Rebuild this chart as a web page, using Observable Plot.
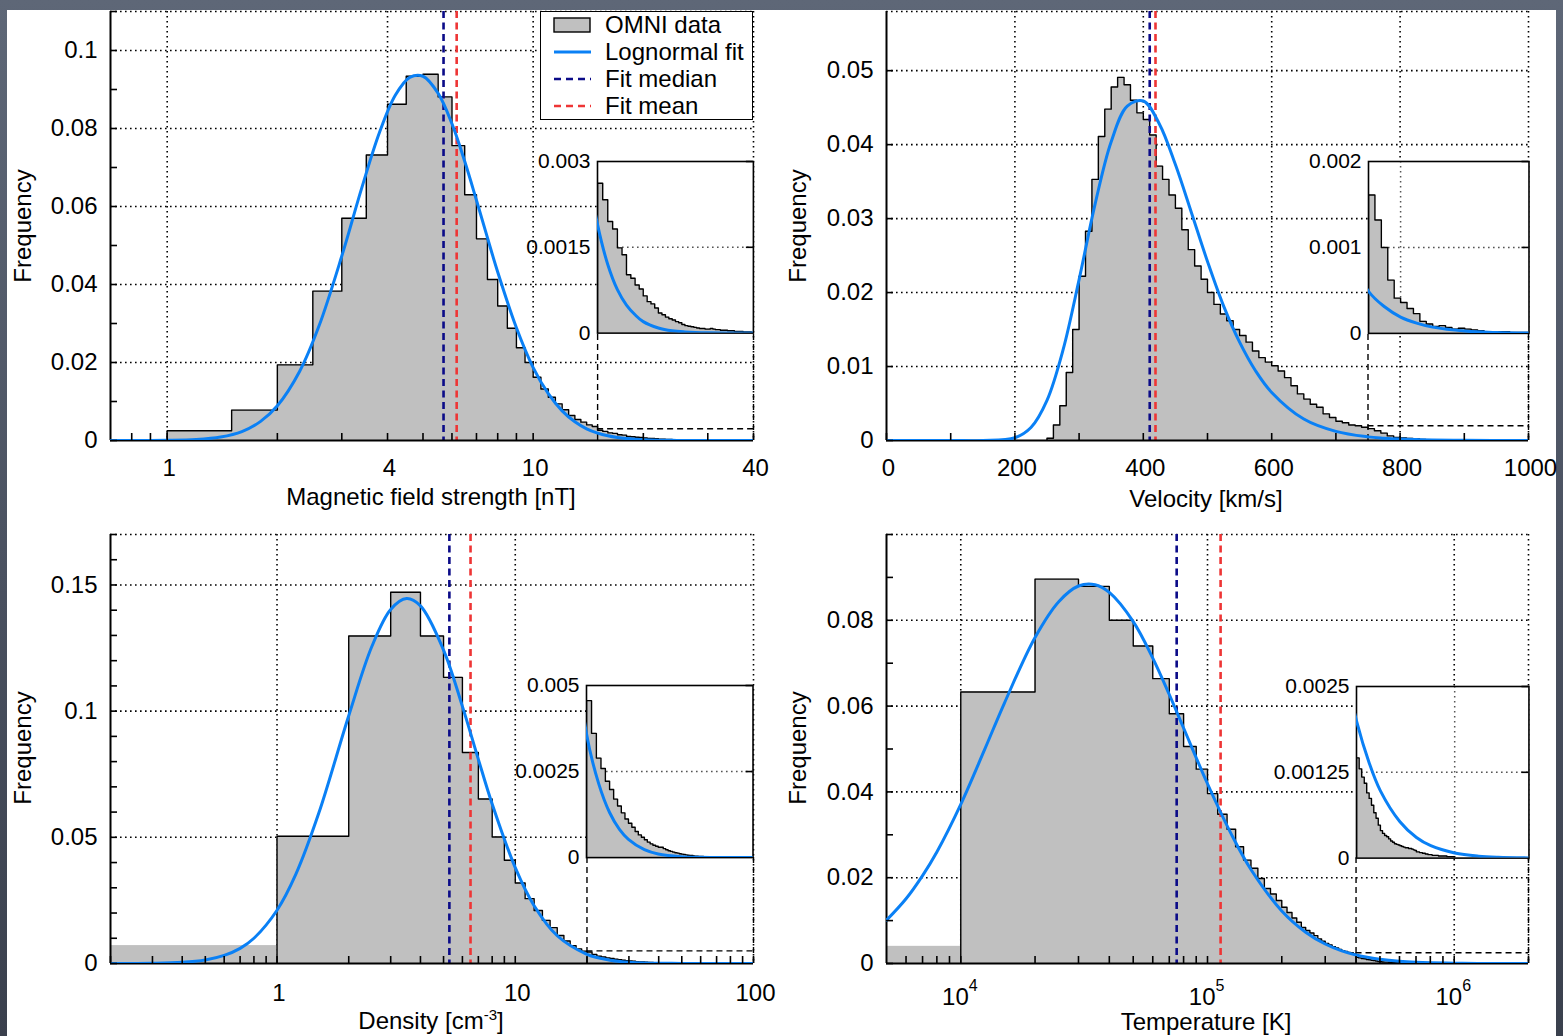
<!DOCTYPE html>
<html>
<head>
<meta charset="utf-8">
<script src="https://cdn.jsdelivr.net/npm/d3@7"></script>
<script src="https://cdn.jsdelivr.net/npm/@observablehq/plot@0.6"></script>
<style>
  html, body { margin: 0; padding: 0; }
  body { width: 1563px; height: 1036px; overflow: hidden; position: relative;
         background: linear-gradient(180deg, #5e6777 0%, #4a5160 55%, #3a404d 100%); }
  #sheet { position: absolute; left: 7px; top: 10px; width: 1549px; height: 1026px; background: #fff; }
  #page { position: absolute; left: 0; top: 0; width: 1563px; height: 1036px; }
  .t { position: absolute; font-family: "Liberation Sans", Arial, Helvetica, sans-serif; font-size: 24px; color: #000; white-space: nowrap; line-height: 1; }
  #page svg { position: absolute; }
</style>
</head>
<body>
<div id="sheet"></div>
<div id="page"></div>
<script>
// ================= DATA =================
// ---- Magnetic field strength [nT] (0.5 nT bins) ----
const bBinStart = 1.0;
const bBinWidth = 0.5;
const bFreq = [0.0025, 0.0078, 0.0194, 0.0383, 0.0570, 0.0732, 0.0862, 0.0934, 0.0939, 0.0881,
               0.0756, 0.0630, 0.0517, 0.0413, 0.0345, 0.0288, 0.0238, 0.0200, 0.0162, 0.0132,
               0.0111, 0.0094, 0.0079, 0.0064, 0.0054, 0.0047, 0.0040, 0.0036];
const bInsetStart = 15;
const bInsetFreq = [0.00262, 0.00233, 0.00195, 0.00182, 0.00149, 0.00137, 0.00102, 0.00096, 0.00084, 0.00077,
                    0.00065, 0.00055, 0.00051, 0.00044, 0.00035, 0.00032, 0.00028, 0.00025, 0.00023, 0.00020,
                    0.00018, 0.00015, 0.00013, 0.00012, 0.00011, 0.00010, 0.00009, 0.00008, 0.00008, 0.00007,
                    0.00007, 0.00008, 0.00007, 0.00006, 0.00006, 0.00005, 0.00005, 0.00005, 0.00004, 0.00004,
                    0.00004, 0.00003, 0.00003, 0.00003, 0.00003, 0.00002, 0.00002, 0.00002, 0.00002, 0.00001];
const bFitX = [0.7, 1.0, 1.2, 1.4, 1.6, 1.8, 2.0, 2.3, 2.6, 3.0, 3.4, 3.8, 4.2, 4.6, 5.0, 5.5, 6.0, 6.5, 7.0, 7.5,
               8, 9, 10, 11, 12, 13, 14, 15, 16, 17, 18, 19, 20, 22, 24, 26, 30, 40];
const bFitY = [0, 0.00005, 0.00026, 0.0009, 0.0023, 0.0049, 0.0089, 0.0177, 0.0294, 0.0473, 0.0647, 0.0789, 0.0885, 0.0931, 0.0934, 0.0890, 0.0812, 0.0716, 0.0616, 0.0520,
               0.0432, 0.0289, 0.0187, 0.0120, 0.0076, 0.0048, 0.0030, 0.0019, 0.0012, 0.00076, 0.00049, 0.00032, 0.00020, 0.00009, 0.00004, 0.00002, 0.000004, 0];
const bMedian = 5.69, bMean = 6.18;
const bXTicks = [0.8, 0.9, 1, 2, 3, 4, 5, 6, 7, 8, 9, 10, 20, 30, 40];
const bXLabels = [1, 4, 10, 40];
const bYTicks = [0, 0.01, 0.02, 0.03, 0.04, 0.05, 0.06, 0.07, 0.08, 0.09, 0.1, 0.11];
const bYLabels = [0, 0.02, 0.04, 0.06, 0.08, 0.1];
const bInsetYLabels = [0, 0.0015, 0.003];

// ---- Velocity [km/s] (10 km/s bins) ----
const vBinStart = 250;
const vBinWidth = 10;
const vFreq = [0.0003, 0.0021, 0.0047, 0.0092, 0.0150, 0.0222, 0.0283, 0.0353, 0.0411, 0.0448,
               0.0478, 0.0491, 0.0481, 0.0460, 0.0443, 0.0434, 0.0413, 0.0371, 0.0353, 0.0332,
               0.0314, 0.0285, 0.0258, 0.0236, 0.0218, 0.0200, 0.0184, 0.0171, 0.0162, 0.0150,
               0.0142, 0.0133, 0.0121, 0.0112, 0.0106, 0.0101, 0.0094, 0.0085, 0.0074, 0.0063,
               0.0056, 0.0049, 0.0045, 0.0036, 0.0031, 0.0026, 0.0024, 0.0021, 0.0020, 0.0018];
const vInsetStart = 750;
const vInsetFreq = [0.00161, 0.00132, 0.00100, 0.00062, 0.00041, 0.00036, 0.00029, 0.00023, 0.00014, 0.00011,
                    0.00008, 0.00009, 0.00007, 0.00005, 0.00006, 0.00005, 0.00004, 0.00003, 0.00002, 0.00002,
                    0.00002, 0.00002, 0.00001, 0.00001, 0.00001];
const vFitX = [0, 100, 150, 200, 225, 250, 275, 300, 325, 350, 375, 400, 425, 450, 475, 500, 525, 550, 575, 600,
               650, 700, 750, 775, 800, 825, 850, 900, 950, 1000];
const vFitY = [0, 0, 0.0000025, 0.00038, 0.00176, 0.00543, 0.01225, 0.02176, 0.0320, 0.0404, 0.0452, 0.0459, 0.0428, 0.0373, 0.0308, 0.0242, 0.0182, 0.0133, 0.0094, 0.0065,
               0.0029, 0.00123, 0.00049, 0.00031, 0.00019, 0.00012, 0.000073, 0.000027, 0.00001, 0.000004];
const vMedian = 410, vMean = 419;
const vXTicks = [0, 100, 200, 300, 400, 500, 600, 700, 800, 900, 1000];
const vXLabels = [0, 200, 400, 600, 800, 1000];
const vYTicks = [0, 0.01, 0.02, 0.03, 0.04, 0.05];
const vYLabels = [0, 0.01, 0.02, 0.03, 0.04, 0.05];
const vInsetYLabels = [0, 0.001, 0.002];

// ---- Density [cm^-3] (1 cm^-3 bins) ----
const dUnderflow = 0.0071;
const dBinStart = 1;
const dBinWidth = 1;
const dFreq = [0.0504, 0.1298, 0.1471, 0.1298, 0.1134, 0.0836, 0.0652, 0.0501, 0.0409, 0.0319,
               0.0257, 0.0210, 0.0171, 0.0142, 0.0111, 0.0089, 0.0071, 0.0058, 0.0049];
const dInsetStart = 20;
const dInsetFreq = [0.00456, 0.00361, 0.00289, 0.00259, 0.00222, 0.00198, 0.00170, 0.00150, 0.00130, 0.00112,
                    0.00100, 0.00088, 0.00076, 0.00066, 0.00059, 0.00052, 0.00045, 0.00040, 0.00036, 0.00033,
                    0.00030, 0.00030, 0.00026, 0.00023, 0.00020, 0.00018, 0.00016, 0.00014, 0.00013, 0.00011,
                    0.00010, 0.00009, 0.00008, 0.00007, 0.00006, 0.00006, 0.00005, 0.00004, 0.00004, 0.00003,
                    0.00003, 0.00003, 0.00002, 0.00002, 0.00002, 0.00002, 0.00002, 0.00001, 0.00001, 0.00001,
                    0.00001, 0.00001, 0.00001, 0.00001, 0.00001, 0, 0, 0, 0, 0];
const dFitX = [0.2, 0.3, 0.4, 0.5, 0.6, 0.7, 0.8, 1.0, 1.2, 1.5, 2.0, 2.5, 3.0, 3.5, 4.0, 5, 6, 7, 8, 10,
               12, 15, 20, 22.5, 25, 27.5, 30, 35, 40, 50, 60, 80, 100];
const dFitY = [0.0000065, 0.00009, 0.00046, 0.0014, 0.0032, 0.0060, 0.0100, 0.0211, 0.0354, 0.0598, 0.0982, 0.1256, 0.1403, 0.1446, 0.1417, 0.1242, 0.1019, 0.0809, 0.0632, 0.0380,
               0.0229, 0.0110, 0.0036, 0.00215, 0.00131, 0.00082, 0.00053, 0.00023, 0.000105, 0.000026, 0.000008, 0.000001, 0];
const dMedian = 5.29, dMean = 6.49;
const dXTicks = [0.2, 0.3, 0.4, 0.5, 0.6, 0.7, 0.8, 0.9, 1, 2, 3, 4, 5, 6, 7, 8, 9, 10, 20, 30, 40, 50, 60, 70, 80, 90, 100];
const dXLabels = [1, 10, 100];
const dYTicks = [0, 0.01, 0.02, 0.03, 0.04, 0.05, 0.06, 0.07, 0.08, 0.09, 0.1, 0.11, 0.12, 0.13, 0.14, 0.15, 0.16, 0.17];
const dYLabels = [0, 0.05, 0.1, 0.15];
const dInsetYLabels = [0, 0.0025, 0.005];

// ---- Temperature [K] (1e4 K bins) ----
const tUnderflow = 0.0040;
const tBinStart = 10000;
const tBinWidth = 10000;
const tFreq = [0.0633, 0.0896, 0.0879, 0.0800, 0.0740, 0.0664, 0.0582, 0.0506, 0.0453, 0.0396,
               0.0348, 0.0313, 0.0272, 0.0241, 0.0222, 0.0198, 0.0175, 0.0162, 0.0147, 0.0131,
               0.0119, 0.0106, 0.0096, 0.0084, 0.0077, 0.0071, 0.0065, 0.0057, 0.0052, 0.0047,
               0.0043, 0.0039, 0.0036, 0.0033, 0.0030, 0.0028, 0.0026, 0.0025, 0.0023];
const tInsetStart = 400000;
const tInsetFreq = [0.00146, 0.00130, 0.00118, 0.00109, 0.00095, 0.00087, 0.00077, 0.00066, 0.00058, 0.00048,
                    0.00040, 0.00036, 0.00033, 0.00031, 0.00028, 0.00025, 0.00023, 0.00021, 0.00020, 0.00019,
                    0.00018, 0.00017, 0.00016, 0.00015, 0.00015, 0.00014, 0.00014, 0.00013, 0.00012, 0.00011,
                    0.00009, 0.00009, 0.00008, 0.00008, 0.00007, 0.00007, 0.00006, 0.00006, 0.00005, 0.00005,
                    0.00005, 0.00004, 0.00004, 0.00004, 0.00004, 0.00004, 0.00003, 0.00003, 0.00003, 0.00003,
                    0.00003, 0.00003, 0.00003, 0.00002, 0.00002, 0.00002, 0.00002, 0.00002, 0.00002, 0.00002];
const tFitX = [5000, 6000, 7000, 8000, 10000, 12500, 15000, 20000, 25000, 30000, 35000, 40000, 50000, 60000, 70000, 80000,
               100000, 125000, 150000, 200000, 250000, 300000, 350000, 400000, 450000, 500000, 600000, 700000, 800000,
               1000000, 1250000, 1500000, 2000000];
const tFitY = [0.0101, 0.0151, 0.0205, 0.0260, 0.0371, 0.0499, 0.0606, 0.0760, 0.0844, 0.0880, 0.0883, 0.0865, 0.0797, 0.0712, 0.0627, 0.0549,
               0.0419, 0.0301, 0.0219, 0.01225, 0.0073, 0.00455, 0.00296, 0.00200, 0.00139, 0.00098, 0.00053, 0.00030, 0.00018,
               0.000074, 0.000028, 0.000012, 0.000003];
const tMedian = 75000, tMean = 113000;
const tXTicks = [6000, 7000, 8000, 9000, 10000, 20000, 30000, 40000, 50000, 60000, 70000, 80000, 90000,
                 100000, 200000, 300000, 400000, 500000, 600000, 700000, 800000, 900000, 1000000, 2000000];
const tXLabels = [10000, 100000, 1000000];
const tXLabelExp = ["4", "5", "6"];
const tYTicks = [0, 0.01, 0.02, 0.03, 0.04, 0.05, 0.06, 0.07, 0.08, 0.09, 0.1];
const tYLabels = [0, 0.02, 0.04, 0.06, 0.08];
const tInsetYLabels = [0, 0.00125, 0.0025];

// ================= STYLE =================
const FONT = '"Liberation Sans", Arial, Helvetica, sans-serif';
const BLUE = "#0a80f5", NAVY = "#0b0b88", RED = "#ee3535", GRAY = "#c0c0c0";
const page = document.getElementById("page");

function bins(start, width, freq) {
  return freq.map((f, i) => ({ lo: start + i * width, hi: start + (i + 1) * width, f }));
}
function stepPoints(bs) {
  const p = bs.map(b => ({ x: b.lo, y: b.f }));
  const last = bs[bs.length - 1];
  p.push({ x: last.hi, y: last.f });
  return p;
}
function fitPoints(xs, ys) { return xs.map((x, i) => ({ x, y: ys[i] })); }

function drawPanel(o) {
  const [fl, ft, fr, fb] = o.frame;
  const fw = fr - fl, fh = fb - ft;
  const m = { l: 110, t: 20, r: 40, b: 60 };
  const mainBins = bins(o.binStart, o.binWidth, o.freq);
  const tailBins = bins(o.insetStart, o.binWidth, o.insetFreq);
  const all = mainBins.concat(tailBins);
  const pts = stepPoints(all);
  const outline = [{ x: all[0].lo, y: 0 }].concat(pts);
  const [xmin, xmax] = o.xDomain;
  const dotted = { stroke: "#000", strokeWidth: 1.6, strokeDasharray: "1.6,3.4" };
  const dashed = { stroke: "#000", strokeWidth: 1.4, strokeDasharray: "6,4" };
  const fit = fitPoints(o.fitX, o.fitY);
  const ins = o.inset;

  const marks = [
    Plot.ruleY(o.yGrid, { y: d => d, ...dotted }),
    Plot.ruleX(o.xGrid, { x: d => d, ...dotted })
  ];
  if (o.underflow != null) {
    marks.push(Plot.rectY([{ x1: xmin, x2: o.binStart, y: o.underflow }], { x1: "x1", x2: "x2", y: "y", fill: GRAY }));
  }
  marks.push(
    Plot.areaY(pts, { x: "x", y: "y", curve: "step-after", fill: GRAY, clip: true }),
    Plot.line(outline, { x: "x", y: "y", curve: "step-after", stroke: "#000", strokeWidth: 1.4, clip: true }),
    Plot.ruleY([{ y: ins.yDomain[1], x1: ins.xDomain[0], x2: ins.xDomain[1] }], { y: "y", x1: "x1", x2: "x2", ...dashed }),
    Plot.ruleX(ins.xDomain.map(x => ({ x, y1: 0, y2: ins.placeY[0] })), { x: "x", y1: "y1", y2: "y2", ...dashed }),
    Plot.ruleX([o.median], { x: d => d, stroke: NAVY, strokeWidth: 2.6, strokeDasharray: "7,4.5" }),
    Plot.ruleX([o.mean], { x: d => d, stroke: RED, strokeWidth: 2.6, strokeDasharray: "7,4.5" }),
    Plot.ruleX([xmin], { x: d => d, stroke: "#000", strokeWidth: 2 }),
    Plot.ruleY([0], { y: d => d, stroke: "#000", strokeWidth: 2 }),
    Plot.line(fit, { x: "x", y: "y", curve: "catmull-rom", stroke: BLUE, strokeWidth: 3, clip: true }),
    Plot.tickX(o.xTicks, { x: d => d, insetTop: fh - 7, stroke: "#000", strokeWidth: 1.6 }),
    Plot.tickY(o.yTicks, { y: d => d, insetRight: fw - 7, stroke: "#000", strokeWidth: 1.6 }),
    Plot.text(o.yLabels, { y: d => d, text: d => String(d), frameAnchor: "left", textAnchor: "end", dx: -13,
                           fontSize: 24, fontFamily: FONT, fill: "#000" })
  );
  if (o.xLabelExp) {
    marks.push(
      Plot.text(o.xLabels, { x: d => d, text: () => "10", frameAnchor: "bottom", lineAnchor: "top", textAnchor: "end",
                             dx: 8, dy: o.xLabelDy, fontSize: 24, fontFamily: FONT, fill: "#000" }),
      Plot.text(o.xLabels, { x: d => d, text: (d, i) => o.xLabelExp[i], frameAnchor: "bottom", lineAnchor: "top", textAnchor: "start",
                             dx: 8, dy: o.xLabelDy - 8, fontSize: 16, fontFamily: FONT, fill: "#000" })
    );
  } else {
    marks.push(Plot.text(o.xLabels, { x: d => d, text: d => String(d), frameAnchor: "bottom", lineAnchor: "top",
                                      dx: 2, dy: o.xLabelDy, fontSize: 24, fontFamily: FONT, fill: "#000" }));
  }

  const svg = Plot.plot({
    width: fw + m.l + m.r, height: fh + m.t + m.b,
    marginLeft: m.l, marginTop: m.t, marginRight: m.r, marginBottom: m.b,
    x: { type: o.xType, domain: o.xDomain, axis: null },
    y: { type: "linear", domain: o.yDomain, axis: null },
    style: { background: "transparent", overflow: "visible" },
    marks
  });
  const svgLeft = fl - m.l, svgTop = ft - m.t;
  svg.style.left = svgLeft + "px";
  svg.style.top = svgTop + "px";
  page.appendChild(svg);

  // ---- inset, placed with the main panel's scales ----
  const sx = svg.scale("x"), sy = svg.scale("y");
  const ix0 = svgLeft + sx.apply(ins.xDomain[0]);
  const ix1 = svgLeft + sx.apply(ins.xDomain[1]);
  const iyTop = svgTop + sy.apply(ins.placeY[1]);
  const iyBot = svgTop + sy.apply(ins.placeY[0]);
  const iw = ix1 - ix0, ih = iyBot - iyTop;
  const im = { l: 100, t: 15, r: 5, b: 5 };
  const ipts = stepPoints(tailBins);
  const ioutline = [{ x: tailBins[0].lo, y: 0 }].concat(ipts);
  const ifit = fit.filter(p => p.x >= o.fitInsetFrom);
  const idotted = { stroke: "#555", strokeWidth: 1.5, strokeDasharray: "1.6,3.4" };
  const mid = ins.yLabels[1], top = ins.yLabels[2];
  const isvg = Plot.plot({
    width: iw + im.l + im.r, height: ih + im.t + im.b,
    marginLeft: im.l, marginTop: im.t, marginRight: im.r, marginBottom: im.b,
    x: { type: o.xType, domain: ins.xDomain, axis: null },
    y: { type: "linear", domain: ins.yDomain, axis: null },
    style: { background: "transparent", overflow: "visible" },
    marks: [
      Plot.frame({ fill: "#fff", stroke: "none" }),
      Plot.ruleY([mid], { y: d => d, ...idotted }),
      Plot.ruleX(ins.xGrid, { x: d => d, ...idotted }),
      Plot.areaY(ipts, { x: "x", y: "y", curve: "step-after", fill: GRAY, clip: true }),
      Plot.line(ioutline, { x: "x", y: "y", curve: "step-after", stroke: "#000", strokeWidth: 1.4, clip: true }),
      Plot.frame({ stroke: "#000", strokeWidth: 1.6, fill: "none" }),
      Plot.line(ifit, { x: "x", y: "y", curve: "catmull-rom", stroke: BLUE, strokeWidth: 3, clip: true }),
      Plot.tickY([mid, top], { y: d => d, insetLeft: iw - 7, stroke: "#000", strokeWidth: 1.6 }),
      Plot.text(ins.yLabels, { y: d => d, text: d => String(d), frameAnchor: "left", textAnchor: "end", dx: -7,
                               fontSize: 21, fontFamily: FONT, fill: "#000" })
    ]
  });
  isvg.style.left = (ix0 - im.l) + "px";
  isvg.style.top = (iyTop - im.t) + "px";
  page.appendChild(isvg);
}

drawPanel({
  frame: [110, 11, 753, 440], xType: "log", xDomain: [0.7, 40], yDomain: [0, 0.11],
  binStart: bBinStart, binWidth: bBinWidth, freq: bFreq, insetStart: bInsetStart, insetFreq: bInsetFreq,
  fitX: bFitX, fitY: bFitY, fitInsetFrom: 14, median: bMedian, mean: bMean,
  xTicks: bXTicks, xLabels: bXLabels, xGrid: [1, 4, 10, 40], xLabelDy: 18,
  yTicks: bYTicks, yLabels: bYLabels, yGrid: [0.02, 0.04, 0.06, 0.08, 0.1, 0.11],
  inset: { xDomain: [15, 40], yDomain: [0, 0.003], placeY: [0.0275, 0.0715], xGrid: [], yLabels: bInsetYLabels }
});
drawPanel({
  frame: [886, 11, 1528, 440], xType: "linear", xDomain: [0, 1000], yDomain: [0, 0.058],
  binStart: vBinStart, binWidth: vBinWidth, freq: vFreq, insetStart: vInsetStart, insetFreq: vInsetFreq,
  fitX: vFitX, fitY: vFitY, fitInsetFrom: 700, median: vMedian, mean: vMean,
  xTicks: vXTicks, xLabels: vXLabels, xGrid: [200, 400, 600, 800, 1000], xLabelDy: 18,
  yTicks: vYTicks, yLabels: vYLabels, yGrid: [0.01, 0.02, 0.03, 0.04, 0.05, 0.058],
  inset: { xDomain: [750, 1000], yDomain: [0, 0.002], placeY: [0.01446, 0.0377], xGrid: [800], yLabels: vInsetYLabels }
});
drawPanel({
  frame: [110, 534, 753, 963], xType: "log", xDomain: [0.2, 100], yDomain: [0, 0.17],
  underflow: dUnderflow,
  binStart: dBinStart, binWidth: dBinWidth, freq: dFreq, insetStart: dInsetStart, insetFreq: dInsetFreq,
  fitX: dFitX, fitY: dFitY, fitInsetFrom: 15, median: dMedian, mean: dMean,
  xTicks: dXTicks, xLabels: dXLabels, xGrid: [1, 10, 100], xLabelDy: 20,
  yTicks: dYTicks, yLabels: dYLabels, yGrid: [0.05, 0.1, 0.15, 0.17],
  inset: { xDomain: [20, 100], yDomain: [0, 0.005], placeY: [0.0421, 0.1103], xGrid: [], yLabels: dInsetYLabels }
});
drawPanel({
  frame: [886, 534, 1528, 963], xType: "log", xDomain: [5000, 2000000], yDomain: [0, 0.1],
  underflow: tUnderflow,
  binStart: tBinStart, binWidth: tBinWidth, freq: tFreq, insetStart: tInsetStart, insetFreq: tInsetFreq,
  fitX: tFitX, fitY: tFitY, fitInsetFrom: 350000, median: tMedian, mean: tMean,
  xTicks: tXTicks, xLabels: tXLabels, xLabelExp: tXLabelExp, xGrid: [10000, 100000, 1000000, 2000000], xLabelDy: 24,
  yTicks: tYTicks, yLabels: tYLabels, yGrid: [0.02, 0.04, 0.06, 0.08, 0.1],
  inset: { xDomain: [400000, 2000000], yDomain: [0, 0.0025], placeY: [0.02465, 0.06465], xGrid: [1000000], yLabels: tInsetYLabels }
});

// ---- axis titles ----
function title(html, cx, cy, rotate) {
  const d = document.createElement("div");
  d.className = "t";
  d.innerHTML = html;
  d.style.left = cx + "px";
  d.style.top = cy + "px";
  d.style.transform = "translate(-50%,-50%)" + (rotate ? " rotate(-90deg)" : "");
  page.appendChild(d);
}
title("Frequency", 23, 226, true);
title("Frequency", 798, 226, true);
title("Frequency", 23, 748, true);
title("Frequency", 798, 748, true);
title("Magnetic field strength [nT]", 431, 497);
title("Velocity [km/s]", 1206, 499);
title('Density [cm<span style="position:relative;top:-9px;font-size:15px">-3</span>]', 431, 1021);
title("Temperature [K]", 1206, 1022);

// ---- legend ----
const legendItems = [
  { label: "OMNI data", kind: "box" },
  { label: "Lognormal fit", kind: "line", color: BLUE, dash: "" },
  { label: "Fit median", kind: "line", color: NAVY, dash: "7,5" },
  { label: "Fit mean", kind: "line", color: RED, dash: "7,5" }
];
const lg = document.createElement("div");
lg.style.cssText = "position:absolute;left:540px;top:11px;width:211px;height:107px;border:1.5px solid #000;background:#fff;";
legendItems.forEach((it, i) => {
  const cy = 13 + i * 27;
  const sw = document.createElementNS("http://www.w3.org/2000/svg", "svg");
  sw.setAttribute("width", "40"); sw.setAttribute("height", "20");
  sw.style.cssText = `position:absolute;left:12px;top:${cy - 10}px;`;
  if (it.kind === "box") {
    sw.innerHTML = `<rect x="1" y="3" width="36" height="14" fill="${GRAY}" stroke="#000" stroke-width="1.4"/>`;
  } else {
    sw.innerHTML = `<line x1="1" y1="10" x2="38" y2="10" stroke="${it.color}" stroke-width="${it.dash ? 2.6 : 3}" ${it.dash ? `stroke-dasharray="${it.dash}"` : ""}/>`;
  }
  lg.appendChild(sw);
  const tx = document.createElement("div");
  tx.className = "t";
  tx.textContent = it.label;
  tx.style.left = "64px";
  tx.style.top = (cy - 12) + "px";
  lg.appendChild(tx);
});
page.appendChild(lg);
</script>
</body>
</html>
